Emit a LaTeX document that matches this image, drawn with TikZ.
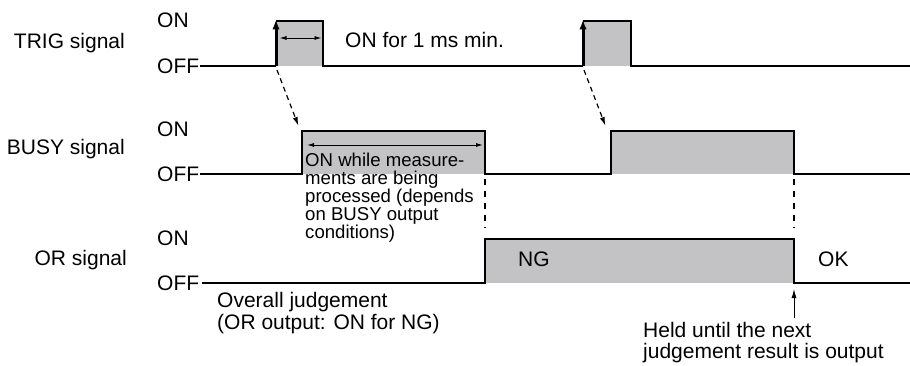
\documentclass[tikz,border=0pt]{standalone}
\usepackage{fontspec}
\setmainfont{Liberation Sans}
\usetikzlibrary{arrows.meta}
\definecolor{pulsegrey}{RGB}{195,195,198}
\tikzset{
  sig/.style={line width=1.9pt, line join=miter},
  edgearrow/.style={line width=3pt, -{Latex[length=10pt,width=7.5pt]}},
  dimarrow/.style={line width=0.9pt, {Latex[length=7pt,width=4pt]}-{Latex[length=7pt,width=4pt]}},
  dasharrow/.style={line width=1.2pt, dash pattern=on 5pt off 4pt, -{Latex[length=9pt,width=5pt]}},
  dashline/.style={line width=1.3pt, dash pattern=on 6pt off 6pt},
  uparrow/.style={line width=1pt, -{Latex[length=9pt,width=5pt]}},
  lbl/.style={inner sep=0pt, font=\fontsize{21}{22}\selectfont},
  small/.style={inner sep=0pt, font=\fontsize{18.6}{17.8}\selectfont, align=left},
  pulse/.style={fill=pulsegrey, draw=none}
}
\begin{document}
\begin{tikzpicture}[x=1pt,y=-1pt]
\useasboundingbox (0,0) rectangle (910,366);
% ---------- labels ----------
\node[lbl, anchor=base east] (trig) at (125,48.5) {TRIG signal};
\node[lbl, anchor=base west] (tron) at (157,28) {ON};
\node[lbl, anchor=base west] (troff) at (157,73.5) {OFF};
\node[lbl, anchor=base east] (busy) at (125,155) {BUSY signal};
\node[lbl, anchor=base west] (bon) at (157,136.5) {ON};
\node[lbl, anchor=base west] (boff) at (157,182) {OFF};
\node[lbl, anchor=base east] (orsig) at (127,265) {OR signal};
\node[lbl, anchor=base west] (oon) at (157,245.5) {ON};
\node[lbl, anchor=base west] (ooff) at (157,290.5) {OFF};
% ---------- key points ----------
\coordinate (t1) at (276,66);  \coordinate (t1u) at (276,21);
\coordinate (t1d) at (323,66); \coordinate (t1e) at (323,21);
\coordinate (t2) at (583,66);  \coordinate (t2u) at (583,21);
\coordinate (t2d) at (631,66); \coordinate (t2e) at (631,21);
\coordinate (b1) at (302,174); \coordinate (b1u) at (302,131);
\coordinate (b1d) at (485,174); \coordinate (b1e) at (485,131);
\coordinate (b2) at (611,174); \coordinate (b2u) at (611,131);
\coordinate (b2d) at (794,174); \coordinate (b2e) at (794,131);
\coordinate (o1) at (485,283); \coordinate (o1u) at (485,239);
\coordinate (o1d) at (794,283); \coordinate (o1e) at (794,239);
% ---------- fills ----------
\fill[pulse] (t1u) rectangle (t1d);
\fill[pulse] (t2u) rectangle (t2d);
\fill[pulse] (b1u) rectangle (b1d);
\fill[pulse] (b2u) rectangle (b2d);
\fill[pulse] (o1u) rectangle (o1d);
% ---------- TRIG ----------
\draw[sig] (200,66) -- (t1);
\draw[sig] (t1u) -- (t1e) -- (t1d) -- (t2);
\draw[sig] (t2u) -- (t2e) -- (t2d) -- (910,66);
\draw[edgearrow] (t1) -- (276,19.5);
\draw[edgearrow] (t2) -- (583,19.5);
\draw[dimarrow] (279.5,38) -- (321.5,38);
\node[lbl, anchor=base west] (onmin) at (345,48) {ON for 1 ms min.};
% ---------- BUSY ----------
\draw[sig] (200,174) -- (b1) -- (b1u) -- (b1e) -- (b1d) -- (b2) -- (b2u) -- (b2e) -- (b2d) -- (910,174);
\draw[dimarrow] (307,145) -- (483,145);
\node[small, anchor=base west] (busytxt) at (305,238) {ON while measure-\\ments are being\\processed (depends\\on BUSY output\\conditions)};
% ---------- OR ----------
\draw[sig] (202,283) -- (o1) -- (o1u) -- (o1e) -- (o1d) -- (910,283);
\node[lbl, anchor=base west] (ng) at (518,266) {NG};
\node[lbl, anchor=base west] (ok) at (818,266) {OK};
% ---------- connectors ----------
\draw[dasharrow] (277,70) -- (298.5,126);
\draw[dasharrow] (584,70) -- (605.5,126);
\draw[dashline] (485,179) -- (485,228);
\draw[dashline] (794,179) -- (794,228);
\node[lbl, anchor=base west] (overall) at (217,307) {Overall judgement};
\node[lbl, anchor=base west] (overall2) at (217,329) {(OR output: ON for NG)};
\node[lbl, anchor=base west] (held) at (643,337) {Held until the next};
\node[lbl, anchor=base west] (held2) at (643,358) {judgement result is output};
\coordinate (heldtop) at (794,318);
\draw[uparrow] (heldtop) -- (794,289);
\end{tikzpicture}
\end{document}
